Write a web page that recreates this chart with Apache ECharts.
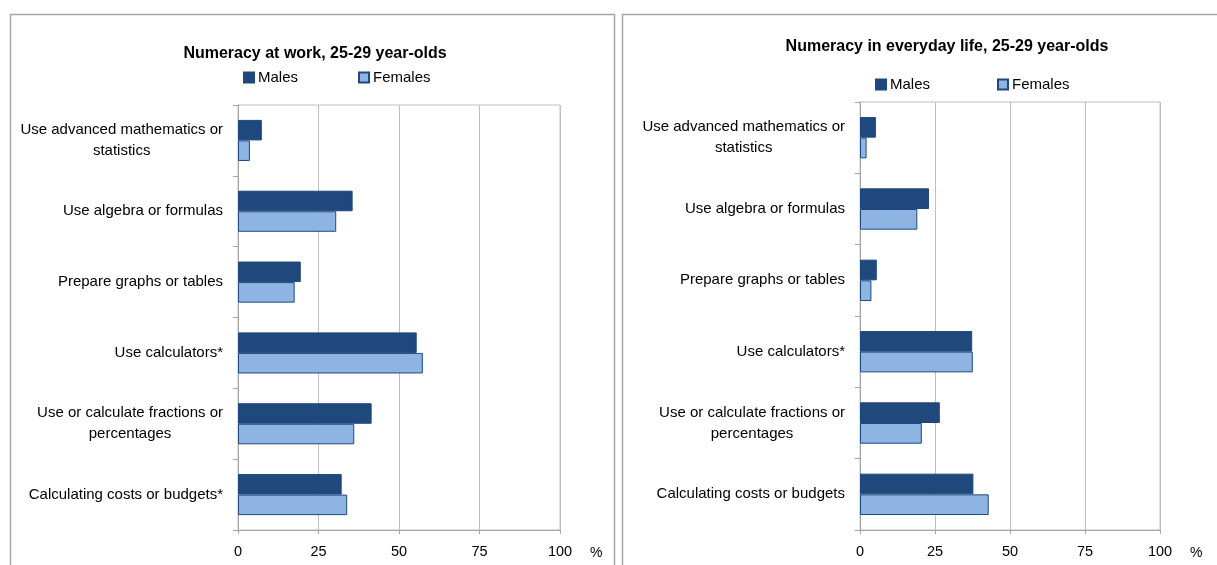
<!DOCTYPE html>
<html>
<head>
<meta charset="utf-8">
<script src="https://cdn.jsdelivr.net/npm/echarts@6/dist/echarts.min.js"></script>
<style>
html,body{margin:0;padding:0;background:#fff;}
#chart{width:1217px;height:565px;}
</style>
</head>
<body>
<div id="chart"></div>
<script>
// ---- Data ----
const workCategories = [
  'Use advanced mathematics or\nstatistics',
  'Use algebra or formulas',
  'Prepare graphs or tables',
  'Use calculators*',
  'Use or calculate fractions or\npercentages',
  'Calculating costs or budgets*'
];
const lifeCategories = [
  'Use advanced mathematics or\nstatistics',
  'Use algebra or formulas',
  'Prepare graphs or tables',
  'Use calculators*',
  'Use or calculate fractions or\npercentages',
  'Calculating costs or budgets'
];
const workMales   = [7.4, 35.6, 19.5, 55.5, 41.5, 32.2];
const workFemales = [3.7, 30.5, 17.6, 57.4, 36.1, 33.9];
const lifeMales   = [5.3, 23.0, 5.6, 37.4, 26.6, 37.8];
const lifeFemales = [2.2, 19.1, 3.8, 37.6, 20.6, 42.9];
const valueTicks = [0, 25, 50, 75, 100];
const titles = ['Numeracy at work, 25-29 year-olds', 'Numeracy in everyday life, 25-29 year-olds'];
const seriesNames = ['Males', 'Females'];

// ---- Styling ----
const FONT = 'Liberation Sans';
const DARK = '#1F497D';
const LIGHT = '#8DB4E2';
const GRID_COL = '#BFBFBF';
const AXIS_COL = '#A6A6A6';

function catAxis(idx, cats) {
  return {
    type: 'category', gridIndex: idx, data: cats, inverse: true,
    axisLine: {show: true, lineStyle: {color: AXIS_COL}},
    axisTick: {show: true, length: 5, lineStyle: {color: AXIS_COL}},
    splitLine: {show: false},
    axisLabel: {
      margin: 15, color: '#000', fontFamily: FONT, fontSize: 15, lineHeight: 21,
      formatter: v => v.split('\n').map(l => '{c|' + l + '}').join('\n'),
      rich: {c: {align: 'center', color: '#000', fontFamily: FONT, fontSize: 15, lineHeight: 21}}
    }
  };
}
function valAxis(idx) {
  return {
    type: 'value', gridIndex: idx, min: valueTicks[0], max: valueTicks[valueTicks.length - 1],
    interval: valueTicks[1] - valueTicks[0],
    name: '%', nameLocation: 'end', nameGap: 30,
    nameTextStyle: {color: '#000', fontFamily: FONT, fontSize: 14, verticalAlign: 'top', padding: [16, 0, 0, 0]},
    axisLine: {show: true, lineStyle: {color: AXIS_COL}},
    axisTick: {show: true, length: 4, lineStyle: {color: AXIS_COL}},
    splitLine: {show: true, lineStyle: {color: GRID_COL}},
    axisLabel: {margin: 14, color: '#000', fontFamily: FONT, fontSize: 14.5}
  };
}
function barSeries(name, data, idx, fill) {
  return {
    type: 'bar', name: name, data: data, xAxisIndex: idx, yAxisIndex: idx,
    barGap: '0%', barCategoryGap: '42%',
    itemStyle: {color: fill, borderColor: DARK, borderWidth: 1},
    emphasis: {disabled: true}, animation: false
  };
}

const chart = echarts.init(document.getElementById('chart'), null, {renderer: 'canvas'});
chart.setOption({
  backgroundColor: '#fff',
  animation: false,
  title: [
    {text: titles[0], left: 310, top: 41, textAlign: 'center',
     textStyle: {fontFamily: FONT, fontSize: 16, fontWeight: 'bold', color: '#000'}},
    {text: titles[1], left: 942, top: 34, textAlign: 'center',
     textStyle: {fontFamily: FONT, fontSize: 16, fontWeight: 'bold', color: '#000'}}
  ],
  legend: [
    {data: seriesNames, left: 243, top: 70, padding: 0, itemWidth: 10, itemHeight: 10, itemGap: 60, icon: 'rect',
     textStyle: {fontFamily: FONT, fontSize: 15, color: '#000', padding: [0, 0, 0, -1]},
     selectedMode: false},
    {data: seriesNames.map(n => n), left: 875, top: 77, padding: 0, itemWidth: 10, itemHeight: 10, itemGap: 67, icon: 'rect',
     textStyle: {fontFamily: FONT, fontSize: 15, color: '#000', padding: [0, 0, 0, -1]},
     selectedMode: false}
  ],
  grid: [
    {left: 238, top: 105, width: 322, height: 425, show: true, borderColor: GRID_COL, borderWidth: 1, containLabel: false},
    {left: 860, top: 102, width: 300, height: 428, show: true, borderColor: GRID_COL, borderWidth: 1, containLabel: false}
  ],
  xAxis: [valAxis(0), valAxis(1)],
  yAxis: [catAxis(0, workCategories), catAxis(1, lifeCategories)],
  series: [
    barSeries(seriesNames[0], workMales, 0, DARK),
    barSeries(seriesNames[1], workFemales, 0, LIGHT),
    barSeries(seriesNames[0] + ' ', lifeMales, 1, DARK),
    barSeries(seriesNames[1] + ' ', lifeFemales, 1, LIGHT)
  ],
  graphic: [
    {type: 'rect', shape: {x: 10.5, y: 14.5, width: 604, height: 700}, style: {fill: 'none', stroke: '#A6A6A6', lineWidth: 1.5}, silent: true, z: -1},
    {type: 'rect', shape: {x: 622.5, y: 14.5, width: 700, height: 700}, style: {fill: 'none', stroke: '#A6A6A6', lineWidth: 1.5}, silent: true, z: -1}
  ]
});
</script>
</body>
</html>
